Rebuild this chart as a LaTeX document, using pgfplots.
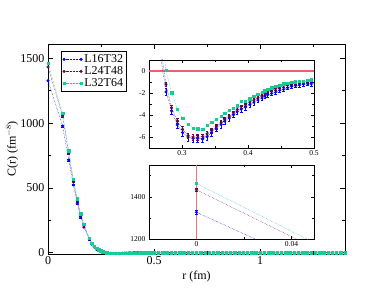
\documentclass[border=0pt]{standalone}
\usepackage{fontspec}
\setmainfont{Liberation Serif}
\usepackage{pgfplots}
\pgfplotsset{compat=1.18}
\usepackage{pgfplotstable}

\definecolor{cblue}{RGB}{0,0,255}
\definecolor{cmaroon}{RGB}{103,7,72}
\definecolor{cturq}{RGB}{20,205,150}
\definecolor{cred}{RGB}{230,70,75}

\pgfplotstableread{
r C e
0 1327 10
0.069 977 8
0.0976 715 7
0.1195 523 6
0.138 382 5
0.1543 274 4
0.169 197 3
0.1952 102 2
0.207 66 2
0.2182 44 1.5
0.2288 27 1
0.239 17 1
0.2488 11 0.8
0.2582 5 0.6
0.2757 -1.9 0.3
0.2842 -3.62 0.35
0.2929 -4.89 0.35
0.301 -5.6 0.35
0.3092 -6.0 0.35
0.3168 -6.13 0.35
0.3238 -6.15 0.35
0.3314 -6.13 0.35
0.338 -5.96 0.3
0.345 -5.6 0.3
0.352 -5.2 0.3
0.3593 -4.86 0.3
0.3648 -4.56 0.28
0.3715 -4.27 0.28
0.378 -3.97 0.27
0.3836 -3.7 0.26
0.3897 -3.47 0.25
0.3962 -3.29 0.25
0.4028 -3.05 0.24
0.4089 -2.84 0.23
0.415 -2.64 0.22
0.4212 -2.46 0.22
0.4255 -2.28 0.21
0.4298 -2.16 0.21
0.4358 -2.04 0.2
0.4419 -1.93 0.2
0.448 -1.75 0.2
0.454 -1.66 0.2
0.46 -1.51 0.19
0.466 -1.4 0.19
0.472 -1.33 0.18
0.478 -1.27 0.18
0.484 -1.21 0.18
0.4905 -1.16 0.17
0.496 -1.18 0.17
0.502 -1.15 0.17
0.52 -1.08 0.1
0.54 -1.0 0.1
0.56 -0.93 0.1
0.58 -0.86 0.1
0.60 -0.8 0.1
0.62 -0.74 0.1
0.64 -0.69 0.1
0.66 -0.64 0.1
0.68 -0.6 0.1
0.70 -0.56 0.1
0.72 -0.52 0.1
0.74 -0.49 0.1
0.76 -0.46 0.1
0.78 -0.43 0.1
0.80 -0.41 0.1
0.82 -0.39 0.1
0.84 -0.37 0.1
0.86 -0.35 0.1
0.88 -0.34 0.1
0.90 -0.33 0.1
0.92 -0.32 0.1
0.94 -0.31 0.1
0.96 -0.3 0.1
}\tblA

\pgfplotstableread{
r C e
0 1433 7
0.069 1053 6
0.0976 765 5
0.1195 550 4
0.138 400 3.5
0.1543 290 3
0.169 210 2.5
0.1952 107 1.5
0.207 70 1.2
0.2182 47 1
0.2288 29 0.8
0.239 19 0.6
0.2488 12 0.5
0.2582 6 0.4
0.2757 -1.2 0.2
0.2842 -3.35 0.25
0.2929 -4.53 0.25
0.301 -5.3 0.25
0.3092 -5.87 0.25
0.3168 -6.01 0.25
0.3238 -6.02 0.25
0.3314 -5.96 0.25
0.338 -5.72 0.22
0.345 -5.42 0.22
0.352 -5.07 0.2
0.3593 -4.68 0.2
0.3648 -4.39 0.2
0.3715 -4.09 0.18
0.378 -3.79 0.18
0.3836 -3.5 0.17
0.3897 -3.23 0.16
0.3962 -3.08 0.16
0.4028 -2.84 0.15
0.4089 -2.64 0.15
0.415 -2.46 0.14
0.4212 -2.25 0.14
0.4255 -2.04 0.13
0.4298 -1.9 0.13
0.4358 -1.75 0.13
0.4419 -1.6 0.12
0.448 -1.45 0.12
0.454 -1.33 0.12
0.46 -1.21 0.12
0.466 -1.16 0.11
0.472 -1.1 0.11
0.478 -1.04 0.11
0.484 -0.98 0.11
0.4905 -0.92 0.1
0.496 -0.86 0.1
0.502 -0.82 0.1
0.52 -0.76 0.08
0.54 -0.7 0.08
0.56 -0.64 0.08
0.58 -0.58 0.08
0.60 -0.53 0.08
0.62 -0.49 0.08
0.64 -0.45 0.08
0.66 -0.41 0.08
0.68 -0.38 0.08
0.70 -0.35 0.08
0.72 -0.32 0.08
0.74 -0.3 0.08
0.76 -0.28 0.08
0.78 -0.26 0.08
0.80 -0.24 0.08
0.82 -0.22 0.08
0.84 -0.21 0.08
0.86 -0.2 0.08
0.88 -0.19 0.08
0.90 -0.18 0.08
0.92 -0.17 0.08
0.94 -0.16 0.08
0.96 -0.15 0.08
0.98 -0.14 0.08
1.00 -0.13 0.08
1.02 -0.12 0.08
1.04 -0.12 0.08
1.06 -0.11 0.08
1.08 -0.11 0.08
1.10 -0.1 0.08
1.12 -0.1 0.08
1.14 -0.09 0.08
1.16 -0.09 0.08
1.18 -0.08 0.08
1.20 -0.08 0.08
1.22 -0.07 0.08
1.24 -0.07 0.08
1.26 -0.06 0.08
1.28 -0.06 0.08
1.30 -0.06 0.08
1.32 -0.05 0.08
1.34 -0.05 0.08
1.36 -0.05 0.08
1.38 -0.04 0.08
1.40 -0.04 0.08
1.42 -0.04 0.08
}\tblB

\pgfplotstableread{
r C e
0 1463 4
0.069 1075 4
0.0976 787 3
0.1195 569 3
0.138 415 2.5
0.1543 300 2
0.169 221 2
0.1952 113 1.5
0.207 75 1
0.2182 52 0.8
0.2288 33 0.6
0.239 22 0.5
0.2488 14 0.4
0.2582 9 0.3
0.2757 0.05 0.05
0.2842 -1.98 0.06
0.2929 -3.47 0.06
0.301 -4.29 0.06
0.3092 -4.86 0.06
0.3168 -5.18 0.06
0.3238 -5.24 0.06
0.3314 -5.27 0.06
0.338 -4.92 0.06
0.345 -4.68 0.06
0.352 -4.38 0.06
0.3593 -4.09 0.06
0.3648 -3.82 0.05
0.3715 -3.58 0.05
0.378 -3.38 0.05
0.3836 -3.14 0.05
0.3897 -2.73 0.05
0.3962 -2.73 0.05
0.4028 -2.52 0.05
0.4089 -2.31 0.05
0.415 -2.11 0.05
0.4212 -1.93 0.05
0.4255 -1.78 0.05
0.4298 -1.63 0.05
0.4358 -1.51 0.05
0.4419 -1.36 0.05
0.448 -1.27 0.05
0.454 -1.16 0.05
0.46 -1.09 0.05
0.466 -1.04 0.05
0.472 -0.98 0.05
0.478 -0.95 0.05
0.484 -0.92 0.05
0.4905 -0.86 0.05
0.496 -0.8 0.05
0.502 -0.76 0.05
0.52 -0.7 0.05
0.54 -0.64 0.05
0.56 -0.58 0.05
0.58 -0.53 0.05
0.60 -0.48 0.05
0.62 -0.44 0.05
0.64 -0.4 0.05
0.66 -0.37 0.05
0.68 -0.34 0.05
0.70 -0.31 0.05
0.72 -0.29 0.05
0.74 -0.27 0.05
0.76 -0.25 0.05
0.78 -0.23 0.05
0.80 -0.21 0.05
0.82 -0.2 0.05
0.84 -0.19 0.05
0.86 -0.18 0.05
0.88 -0.17 0.05
0.90 -0.16 0.05
0.92 -0.15 0.05
0.94 -0.14 0.05
0.96 -0.13 0.05
0.98 -0.12 0.05
1.00 -0.12 0.05
1.02 -0.11 0.05
1.04 -0.1 0.05
1.06 -0.1 0.05
1.08 -0.09 0.05
1.10 -0.09 0.05
1.12 -0.08 0.05
1.14 -0.08 0.05
1.16 -0.07 0.05
1.18 -0.07 0.05
1.20 -0.06 0.05
1.22 -0.06 0.05
1.24 -0.05 0.05
1.26 -0.05 0.05
1.28 -0.05 0.05
1.30 -0.04 0.05
1.32 -0.04 0.05
1.34 -0.04 0.05
1.36 -0.03 0.05
1.38 -0.03 0.05
1.40 -0.03 0.05
1.42 -0.03 0.05
}\tblC

\pgfplotsset{
  myaxis/.style={
    anchor=south west, scale only axis,
    tick align=inside, axis background/.style={fill=white},
    /pgf/number format/assume math mode=true,
    scaled x ticks=false, scaled y ticks=false,
    tick style={black, line width=0.5pt},
  },
  sA/.style={cblue, densely dotted, line width=0.45pt, mark=*, mark size=1.3pt, mark options={solid},
    error bars/.cd, y dir=both, y explicit, error bar style={solid, line width=0.5pt}},
  sB/.style={cmaroon, densely dotted, line width=0.45pt, mark=*, mark size=1.3pt, mark options={solid},
    error bars/.cd, y dir=both, y explicit, error bar style={solid, line width=0.5pt}},
  sC/.style={cturq, densely dotted, line width=0.45pt, mark=square*, mark size=1.2pt, mark options={solid},
    error bars/.cd, y dir=both, y explicit, error bar style={solid, line width=0.5pt}},
}

\begin{document}
\begin{tikzpicture}
\path[use as bounding box] (0,0) rectangle (388bp,300bp);

% main axis
\begin{axis}[myaxis,
  at={(48bp,46bp)}, width=297bp, height=210bp,
  xmin=0, xmax=1.4, ymin=-10, ymax=1610,
  xtick={0,0.5,1}, xticklabels={0,0.5,1},
  minor xtick={0.25,0.75,1.25},
  ytick={0,500,1000,1500}, yticklabels={0,500,1000,1500},
  minor ytick={250,750,1250},
  major tick length=5bp, minor tick length=3bp,
  axis line style={line width=0.9pt},
  tick label style={font=\fontsize{12bp}{14bp}\selectfont},
  xticklabel style={yshift=1bp},
  xlabel={r (fm)}, ylabel={C(r) (fm$^{-8}$)},
  label style={font=\fontsize{12bp}{14bp}\selectfont},
  xlabel style={at={(axis description cs:0.5,0)}, anchor=north, yshift=-14bp},
  ylabel style={at={(axis description cs:-0.121,0.5)}, anchor=center},
  legend style={at={(axis description cs:0.044,0.967)}, anchor=north west,
    font=\fontsize{12bp}{12bp}\selectfont, draw=black, line width=0.5pt,
    inner sep=1.5pt, row sep=-1.5pt, cells={anchor=west}},
  legend image code/.code={\draw[#1, mark repeat=2, mark phase=1] plot coordinates {(0bp,0bp) (8.5bp,0bp) (17bp,0bp)};},
]
\addplot+[sA] table[x=r, y=C, y error=e] {\tblA};
\addlegendentry{L16T32}
\addplot+[sB] table[x=r, y=C, y error=e] {\tblB};
\addlegendentry{L24T48}
\addplot+[sC] table[x=r, y=C, y error=e] {\tblC};
\addlegendentry{L32T64}
\end{axis}

% inset 1
\begin{axis}[myaxis,
  at={(149bp,152bp)}, width=165bp, height=88bp,
  xmin=0.25, xmax=0.5, ymin=-7, ymax=1,
  xtick={0.3,0.4,0.5}, xticklabels={0.3,0.4,0.5},
  minor xtick={0.35,0.45},
  ytick={-6,-4,-2,0}, yticklabels={-6,-4,-2,0},
  minor ytick={-7,-5,-3,-1,1},
  major tick length=3.5bp, minor tick length=2.5bp,
  axis line style={line width=0.6pt},
  tick label style={font=\fontsize{7.5bp}{9bp}\selectfont},
  xticklabel style={yshift=1bp},
]
\addplot[draw=cred!85, solid, no marks, line width=1.1pt, forget plot] coordinates {(0.25,0) (0.5,0)};
\addplot+[sA] table[x=r, y=C, y error=e] {\tblA};
\addplot+[sB] table[x=r, y=C, y error=e] {\tblB};
\addplot+[sC] table[x=r, y=C, y error=e] {\tblC};
\end{axis}

% inset 2
\begin{axis}[myaxis,
  at={(149bp,60.7bp)}, width=165bp, height=74.3bp,
  xmin=-0.02, xmax=0.0495, ymin=1200, ymax=1550,
  xtick={0,0.04}, xticklabels={0,0.04},
  minor xtick={-0.02,0.02},
  ytick={1200,1400}, yticklabels={1200,1400},
  minor ytick={1300,1500},
  major tick length=3.5bp, minor tick length=2.5bp,
  axis line style={line width=0.6pt},
  tick label style={font=\fontsize{7.5bp}{9bp}\selectfont},
  xticklabel style={yshift=1bp},
]
\addplot[draw=cred!75, solid, no marks, line width=1.5pt, forget plot] coordinates {(0,1200) (0,1550)};
\addplot+[sA] table[x=r, y=C, y error=e] {\tblA};
\addplot+[sB] table[x=r, y=C, y error=e] {\tblB};
\addplot+[sC] table[x=r, y=C, y error=e] {\tblC};
\end{axis}
\end{tikzpicture}
\end{document}
